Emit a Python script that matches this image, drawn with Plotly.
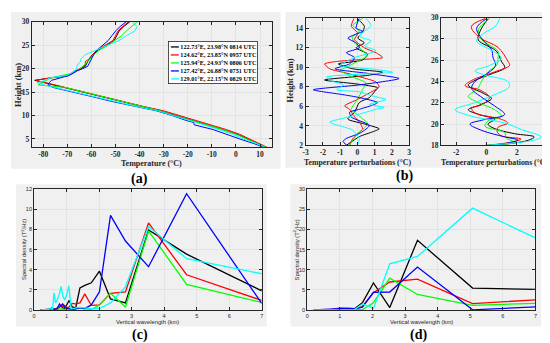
import plotly.graph_objects as go

W, H = 550, 343

# ---------------- DATA ----------------
SERIES_NAMES = ["122.73°E, 23.98°N 0814 UTC", "124.62°E, 23.85°N 0957 UTC",
                "125.94°E, 24.93°N 0806 UTC", "127.42°E, 26.88°N 0751 UTC",
                "129.01°E, 22.15°N 0829 UTC"]
SERIES_COLORS = ["#000000", "#ff0000", "#00ff00", "#0000ff", "#00ffff"]

# (a) temperature profiles
height_a = [3.2, 4, 5, 6, 7, 8, 8.5, 9, 10, 11, 12, 13, 14, 15, 16, 16.5, 17, 17.5, 18, 18.5,
            19, 19.5, 20, 20.5, 21, 21.5, 22, 23, 24, 25, 26, 27, 28, 29, 30]
temp_a_black = [12.5, 9.0, 4.5, 0.5, -5.5, -12.0, -15.5, -19.0, -25.0, -31.5, -39.5, -47.5, -55.5, -63.5,
                -71.5, -75.5, -79.5, -83.5, -77.0, -69.5, -68.0, -66.0, -64.0, -62.5, -62.0, -61.5, -61.0,
                -59.5, -57.0, -53.5, -50.5, -49.5, -48.5, -46.5, -44.0]
temp_a_red = [13.0, 9.5, 5.5, 1.5, -4.0, -10.5, -14.0, -18.0, -24.0, -30.0, -39.0, -47.0, -55.0, -63.0,
              -71.0, -75.5, -80.0, -83.0, -77.5, -70.0, -68.5, -66.5, -64.5, -63.0, -62.5, -62.5, -61.0,
              -59.5, -57.5, -54.0, -51.0, -50.0, -49.0, -47.0, -44.5]
temp_a_green = [12.5, 9.0, 4.0, 0.0, -5.5, -12.5, -15.5, -19.5, -25.5, -31.5, -39.0, -47.0, -55.0, -63.0,
                -71.0, -82.0, -80.0, -78.5, -77.0, -72.0, -68.0, -66.0, -64.5, -63.5, -62.5, -61.5, -60.5,
                -59.0, -56.5, -53.0, -50.0, -47.5, -45.5, -43.0, -41.0]
temp_a_blue = [11.5, 7.5, 1.5, -4.5, -9.5, -17.3, -17.5, -21.0, -26.5, -33.0, -43.0, -51.5, -59.5, -67.5,
               -76.0, -78.0, -77.5, -76.5, -73.0, -69.5, -67.5, -66.0, -63.5, -61.5, -61.0, -60.5, -60.0,
               -59.0, -57.5, -55.0, -53.0, -51.5, -50.0, -48.0, -45.5]
temp_a_cyan = [12.0, 8.5, 3.0, -1.5, -7.0, -13.5, -16.5, -20.0, -26.5, -32.5, -42.0, -50.5, -58.5, -66.5,
               -75.0, -79.5, -82.5, -79.0, -77.5, -70.5, -68.5, -67.0, -66.0, -66.0, -65.5, -64.5, -64.5,
               -62.5, -58.0, -53.0, -48.5, -45.5, -42.0, -41.0, -43.0]

# (b) temperature perturbations, 2-15 km
h_bl_black = [2.0, 2.9, 3.4, 3.7, 4.2, 4.7, 5.4, 6.4, 6.9, 7.5, 7.9, 8.3, 8.7, 9.2, 9.5, 9.85, 10.35, 10.75, 11.35, 12.0, 12.5, 13.0, 13.6, 14.2, 15.0]
t_bl_black = [-0.64, 0.12, 0.9, 1.27, 0.41, -0.55, -0.16, 0.12, 0.7, 1.0, 1.18, -0.07, -1.9, 0.7, 1.47, -0.26, -1.1, 0.3, 0.6, -0.07, 0.41, 0.03, 0.3, 0.41, 0.0]
h_bl_red = [2.0, 2.7, 3.7, 4.4, 5.0, 5.7, 6.05, 6.7, 7.37, 8.0, 8.5, 9.0, 9.4, 9.85, 10.35, 10.6, 10.8, 11.0, 11.5, 12.0, 12.85, 13.5, 14.2, 15.0]
t_bl_red = [-0.45, -0.26, 0.3, 0.12, -0.2, -0.45, -0.74, 0.0, 0.7, 1.27, 1.08, 0.2, -0.6, -1.6, -1.9, -1.2, 0.2, 1.47, 1.08, 0.41, -0.16, 0.03, -0.35, -0.2]
h_bl_green = [2.0, 3.05, 4.2, 5.0, 5.7, 6.7, 7.7, 8.4, 9.0, 9.7, 10.0, 10.7, 11.2, 11.85, 12.5, 13.1, 13.7, 14.3, 15.0]
t_bl_green = [-0.45, -0.07, 0.6, 0.12, -0.35, 0.0, 0.3, 0.5, -0.26, -1.0, -0.64, 0.12, 0.6, 0.22, -0.16, -0.3, 0.12, -0.26, 0.3]
h_bl_blue = [2.0, 2.4, 2.7, 3.3, 4.05, 4.9, 5.4, 5.7, 6.2, 6.4, 6.9, 7.2, 7.7, 8.2, 8.85, 9.36, 9.85, 10.35, 11.0, 11.5, 12.0, 12.5, 13.0, 13.7, 14.0, 15.0]
t_bl_blue = [-0.6, -0.83, -0.65, 0.2, 0.7, -0.35, -0.45, 0.12, 1.0, 1.18, 0.12, -0.83, -2.56, 0.12, 2.42, 0.7, -1.3, -0.45, -0.16, -0.64, 0.12, -0.07, -0.55, 0.3, -0.07, 0.1]
h_bl_cyan = [2.0, 2.7, 3.55, 4.0, 4.2, 4.4, 4.9, 5.3, 5.7, 5.9, 6.2, 6.7, 7.1, 7.5, 7.7, 8.2, 8.6, 9.0, 9.5, 9.8, 10.2, 11.0, 11.7, 12.2, 12.7, 13.2, 14.3, 15.0]
t_bl_cyan = [0.0, 0.12, -0.26, -1.0, -1.4, -1.6, -0.55, 0.3, 1.08, 1.56, 0.7, 1.66, 0.8, 0.12, -1.2, -0.8, -1.5, -1.8, 2.05, 1.0, -1.0, -0.16, 1.08, 0.41, 0.8, 0.12, 0.8, 0.5]

# (b) temperature perturbations, 18-30 km
h_br_black = [18.0, 18.15, 18.5, 18.8, 19.1, 19.6, 20.0, 20.45, 20.9, 21.35, 21.8, 22.4, 22.9, 23.65, 24.1, 24.7, 25.3, 25.9, 26.85, 27.9, 28.7, 29.9]
t_br_black = [0.1, 1.41, 2.8, 3.15, 1.85, 0.5, 0.1, 0.54, -0.5, -1.2, -0.43, 0.33, -0.22, -1.2, -0.76, 0.3, 1.2, 0.98, 0.65, -0.54, -0.43, 0.1]
h_br_red = [18.0, 18.3, 18.6, 18.9, 19.3, 19.7, 20.1, 20.45, 21.05, 21.5, 21.8, 22.5, 23.2, 23.6, 24.1, 24.9, 25.5, 25.9, 27.2, 28.1, 29.15, 29.9]
t_br_red = [-0.1, 1.63, 2.28, 0.98, 0.7, 0.76, 1.41, 0.98, -0.76, -0.98, -0.33, 0.2, -0.43, -1.41, -0.98, 0.54, 1.52, 1.41, 0.76, -0.43, -1.0, -0.1]
h_br_green = [18.0, 18.3, 18.7, 19.2, 19.8, 20.3, 20.75, 21.35, 22.0, 22.6, 23.3, 24.0, 24.9, 25.6, 26.2, 26.85, 27.9, 28.85, 29.9]
t_br_green = [0.0, 1.85, 1.3, 1.2, -0.1, 0.1, 0.98, 0.54, -0.5, -1.2, -0.6, -0.33, 0.1, 0.7, 0.76, 0.76, -0.3, -0.54, 0.2]
h_br_blue = [18.0, 18.5, 18.8, 19.4, 20.0, 20.4, 20.9, 21.7, 22.5, 23.35, 24.0, 24.7, 25.5, 26.25, 27.0, 28.0, 29.0, 29.9]
t_br_blue = [0.5, 2.07, 1.2, -0.3, -1.09, -0.2, 1.2, 0.54, -0.3, -0.98, -0.76, 0.0, 0.6, 0.43, 0.33, -0.3, -0.65, 0.0]
h_br_cyan = [18.0, 18.15, 18.5, 18.8, 19.5, 20.1, 20.75, 21.35, 22.0, 22.8, 23.5, 24.0, 24.6, 25.0, 25.5, 26.2, 26.8, 27.8, 28.5, 29.2, 29.9]
t_br_cyan = [-0.1, 1.2, 3.15, 3.6, 2.3, 1.2, -1.0, -2.07, -0.8, 0.6, 1.5, 1.41, -0.1, -0.76, 0.2, 0.98, 0.5, -0.65, -0.2, 0.6, 0.87]

# (c) spectral density, lower layer
wl_c_black = [0.2, 0.45, 0.55, 0.64, 0.7, 0.78, 0.83, 0.88, 0.94, 1.0, 1.08, 1.17, 1.28, 1.41, 1.56, 1.76, 2.01, 2.35, 2.81, 3.52, 4.69, 7.0]
sd_c_black = [0.0, 0.0, 0.1, 0.05, 0.1, 0.3, 0.45, 0.2, 0.15, 0.5, 0.95, 0.3, 0.2, 2.2, 2.45, 2.7, 3.85, 1.1, 0.7, 7.95, 5.55, 1.9]
wl_c_red = [0.2, 0.5, 0.64, 0.78, 0.83, 0.88, 0.94, 1.0, 1.08, 1.17, 1.28, 1.41, 1.56, 1.76, 2.01, 2.35, 2.81, 3.52, 4.69, 7.0]
sd_c_red = [0.0, 0.05, 0.1, 0.25, 0.5, 0.3, 0.45, 0.2, 0.3, 0.65, 0.6, 0.7, 1.6, 0.45, 0.5, 1.65, 1.8, 8.65, 3.5, 0.95]
wl_c_green = [0.2, 0.6, 0.83, 0.94, 1.08, 1.17, 1.41, 1.56, 1.76, 2.01, 2.35, 2.81, 3.52, 4.69, 7.0]
sd_c_green = [0.0, 0.0, 0.1, 0.05, 0.15, 0.05, 0.2, 0.1, 0.05, 0.5, 1.65, 0.3, 7.85, 2.55, 0.75]
wl_c_blue = [0.2, 0.45, 0.54, 0.61, 0.7, 0.78, 0.83, 0.88, 0.94, 1.0, 1.08, 1.17, 1.28, 1.41, 1.56, 1.76, 2.01, 2.35, 2.81, 3.52, 4.69, 7.0]
sd_c_blue = [0.0, 0.05, 0.2, 0.05, 0.1, 0.6, 0.35, 0.6, 0.3, 0.15, 0.1, 0.05, 0.1, 0.2, 0.15, 0.5, 1.8, 9.4, 6.85, 4.3, 11.55, 0.65]
wl_c_cyan = [0.2, 0.45, 0.52, 0.57, 0.61, 0.66, 0.71, 0.78, 0.83, 0.88, 0.94, 1.0, 1.07, 1.14, 1.28, 1.41, 1.56, 1.76, 2.01, 2.35, 2.81, 3.52, 4.69, 7.0]
sd_c_cyan = [0.0, 0.05, 0.2, 0.1, 1.7, 0.7, 1.0, 1.6, 2.35, 1.4, 1.0, 1.5, 2.4, 0.1, 0.2, 0.25, 0.2, 0.1, 0.15, 0.7, 2.3, 8.3, 5.1, 3.6]

# (d) spectral density, upper layer
wl_d_black = [0.2, 0.8, 1.01, 1.27, 1.45, 1.69, 2.03, 2.53, 3.38, 5.07, 7.0]
sd_d_black = [0.0, 0.0, 0.2, 0.2, 0.3, 1.8, 6.7, 0.6, 17.3, 5.45, 5.1]
wl_d_red = [0.2, 0.7, 0.85, 1.01, 1.13, 1.27, 1.45, 1.69, 2.03, 2.53, 3.38, 5.07, 7.0]
sd_d_red = [0.0, 0.0, 0.3, 0.5, 0.45, 0.35, 0.3, 0.8, 4.3, 6.95, 7.65, 1.6, 2.5]
wl_d_green = [0.2, 0.85, 1.01, 1.27, 1.45, 1.69, 2.03, 2.53, 3.38, 5.07, 7.0]
sd_d_green = [0.0, 0.1, 0.2, 0.1, 0.05, 0.1, 1.8, 7.9, 3.85, 1.15, 1.65]
wl_d_blue = [0.2, 0.85, 1.01, 1.27, 1.45, 1.69, 2.03, 2.53, 3.38, 5.07, 7.0]
sd_d_blue = [0.0, 0.1, 0.3, 0.4, 0.3, 0.7, 4.4, 4.45, 10.65, 0.05, 0.75]
wl_d_cyan = [0.2, 1.01, 1.27, 1.45, 1.69, 2.03, 2.53, 3.38, 5.07, 7.0]
sd_d_cyan = [0.0, 0.05, 0.1, 0.1, 1.5, 0.4, 11.45, 13.3, 25.3, 17.9]

# tick labels
ticks_a_x = [-80, -70, -60, -50, -40, -30, -20, -10, 0, 10]
ticks_a_y = [5, 10, 15, 20, 25, 30]
ticks_bl_x = [-3, -2, -1, 0, 1, 2, 3]
ticks_bl_y = [2, 4, 6, 8, 10, 12, 14]
ticks_br_x = [-2, 0, 2, 4]
ticks_br_y = [18, 20, 22, 24, 26, 28, 30]
ticks_cd_x = [0, 1, 2, 3, 4, 5, 6, 7]
ticks_c_y = [0, 2, 4, 6, 8, 10, 12]
ticks_d_y = [0, 5, 10, 15, 20, 25, 30]

# ---------------- FIGURE ----------------
SERIF = "Liberation Serif"
SANS = "Liberation Sans"

def fx(p):
    return p / W

def fy(p):
    return 1 - p / H

fig = go.Figure()

def add(xs, ys, xa, ya, color, width, shape="linear", smoothing=1.0):
    fig.add_trace(go.Scatter(x=xs, y=ys, mode="lines", xaxis=xa, yaxis=ya,
                             line=dict(color=color, width=width, shape=shape,
                                       smoothing=smoothing if shape == "spline" else None),
                             showlegend=False, hoverinfo="skip"))

temps_a = [temp_a_black, temp_a_red, temp_a_green, temp_a_blue, temp_a_cyan]
for t, c in zip(temps_a, SERIES_COLORS):
    add(t, height_a, "x", "y", c, 1.0)

bl = [(t_bl_black, h_bl_black), (t_bl_red, h_bl_red), (t_bl_green, h_bl_green),
      (t_bl_blue, h_bl_blue), (t_bl_cyan, h_bl_cyan)]
for (t, h), c in zip(bl, SERIES_COLORS):
    add(t, h, "x2", "y2", c, 1.0, "spline", 0.6)

br = [(t_br_black, h_br_black), (t_br_red, h_br_red), (t_br_green, h_br_green),
      (t_br_blue, h_br_blue), (t_br_cyan, h_br_cyan)]
for (t, h), c in zip(br, SERIES_COLORS):
    add(t, h, "x3", "y3", c, 1.0, "spline", 1.0)

cc = [(wl_c_black, sd_c_black), (wl_c_red, sd_c_red), (wl_c_green, sd_c_green),
      (wl_c_blue, sd_c_blue), (wl_c_cyan, sd_c_cyan)]
for (x, y), c in zip(cc, SERIES_COLORS):
    add(x, y, "x4", "y4", c, 1.3)

dd = [(wl_d_black, sd_d_black), (wl_d_red, sd_d_red), (wl_d_green, sd_d_green),
      (wl_d_blue, sd_d_blue), (wl_d_cyan, sd_d_cyan)]
for (x, y), c in zip(dd, SERIES_COLORS):
    add(x, y, "x5", "y5", c, 1.3)

def axis(domain, rng, ticks, anchor, font):
    return dict(domain=domain, range=rng, anchor=anchor,
                tickvals=ticks, ticktext=[str(v) for v in ticks],
                showgrid=True, gridcolor="#e3e3e3", gridwidth=1,
                zeroline=False, showline=True, linecolor="#262626", linewidth=1,
                mirror="allticks", ticks="inside", ticklen=3, tickcolor="#262626",
                tickfont=font)

tf_serif = dict(family=SERIF, size=7.5, color="#262626", weight="bold")
tf_sans = dict(family=SANS, size=5.5, color="#262626")

dom_a_x = [fx(21), fx(263)]
dom_a_y = [fy(139), fy(10)]
dom_bl_x = [fx(297.3), fx(401.7)]
dom_b_y = [fy(137), fy(5.7)]
dom_br_x = [fx(434), fx(541)]
dom_c_x = [fx(23.3), fx(253)]
dom_cd_y = [fy(306), fy(182)]
dom_d_x = [fx(299), fx(529.3)]

fig.update_layout(
    width=W, height=H, autosize=False,
    margin=dict(l=0, r=0, t=0, b=0),
    paper_bgcolor="white", plot_bgcolor="white",
    showlegend=False,
    xaxis=axis(dom_a_x, [-84.7, 14.8], ticks_a_x, "y", tf_serif),
    yaxis=axis(dom_a_y, [3.2, 30], ticks_a_y, "x", tf_serif),
    xaxis2=axis(dom_bl_x, [-3, 3], ticks_bl_x, "y2", tf_serif),
    yaxis2=axis(dom_b_y, [2, 15.1], ticks_bl_y, "x2", tf_serif),
    xaxis3=axis(dom_br_x, [-3, 4], ticks_br_x, "y3", tf_serif),
    yaxis3=axis(dom_b_y, [18, 30], ticks_br_y, "x3", tf_serif),
    xaxis4=axis(dom_c_x, [0, 7], ticks_cd_x, "y4", tf_sans),
    yaxis4=axis(dom_cd_y, [0, 12], ticks_c_y, "x4", tf_sans),
    xaxis5=axis(dom_d_x, [0, 7], ticks_cd_x, "y5", tf_sans),
    yaxis5=axis(dom_cd_y, [0, 30], ticks_d_y, "x5", tf_sans),
)

# gray panel backgrounds
def panel(x0, y0, x1, y1):
    fig.add_shape(type="rect", xref="paper", yref="paper", x0=fx(x0), x1=fx(x1),
                  y0=fy(y1), y1=fy(y0), fillcolor="#f0f0f0", line=dict(width=0), layer="below")

panel(0, 0, 272, 161)
panel(277, 0, 550, 160)
panel(5, 177, 258, 323)
panel(282, 177, 535, 323)

def text(s, x, y, size, family, bold=False, angle=0, color="#262626"):
    fig.add_annotation(text=s, x=fx(x), y=fy(y), xref="paper", yref="paper", showarrow=False,
                       textangle=angle, xanchor="center", yanchor="middle",
                       font=dict(family=family, size=size, color=color, weight="bold" if bold else "normal"))

# axis titles
text("Temperature (°C)", 142, 156, 8, SERIF, True)
text("Height (km)", 7, 75, 8.5, SERIF, True, -90)
text("Height (km)", 282, 70, 8.5, SERIF, True, -90)
text("Temperature perturbations (°C)", 349.5, 154.5, 7.8, SERIF, True)
text("Temperature perturbations (°C)", 487.5, 154.5, 7.8, SERIF, True)
text("Vertical wavelength (km)", 138, 318, 5.8, SANS)
text("Spectral density (T<sup>2</sup>/Hz)", 12.5, 244, 5.8, SANS, angle=-90)
text("Vertical wavelength (km)", 414, 318, 5.8, SANS)
text("Spectral density (T<sup>2</sup>/Hz)", 287.5, 244, 5.8, SANS, angle=-90)

# panel letters
text("(a)", 130, 171, 14, SERIF, True, color="#000000")
text("(b)", 397, 168, 14, SERIF, True, color="#000000")
text("(c)", 130, 332, 14, SERIF, True, color="#000000")
text("(d)", 411, 332, 14, SERIF, True, color="#000000")

# legend for panel (a)
rows = []
for name, col in zip(SERIES_NAMES, SERIES_COLORS):
    rows.append('<span style="color:%s">━━</span> %s' % (col, name))
fig.add_annotation(text="<br>".join(rows), x=fx(158), y=fy(29.3), xref="paper", yref="paper",
                   xanchor="left", yanchor="top", align="left", showarrow=False,
                   bgcolor="white", bordercolor="#262626", borderwidth=0.8, borderpad=1,
                   font=dict(family=SERIF, size=6.2, color="#000000", weight="bold"))

fig.write_html("out.html")
